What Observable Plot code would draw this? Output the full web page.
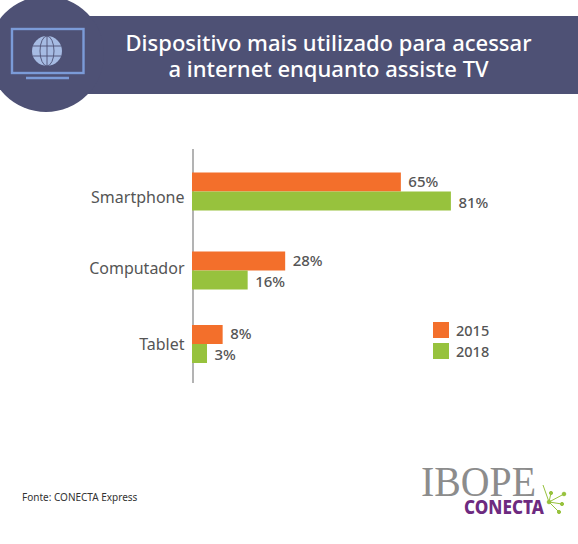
<!DOCTYPE html>
<html lang="pt">
<head>
<meta charset="utf-8">
<script src="https://cdn.jsdelivr.net/npm/d3@7"></script>
<script src="https://cdn.jsdelivr.net/npm/@observablehq/plot@0.6"></script>
<style>
  html, body { margin: 0; padding: 0; background: #fff; }
  #page { position: relative; width: 578px; height: 544px; overflow: hidden; font-family: "Noto Sans", sans-serif; }
  #deco { position: absolute; left: 0; top: 0; }
  #title { position: absolute; left: 79px; width: 499px; top: 29px; margin: 0; text-align: center; color: #fff;
           font-size: 22px; font-weight: 500; line-height: 26px; white-space: nowrap; }
  #chart { position: absolute; left: 0; top: 120px; }
  .leg { position: absolute; left: 433px; display: flex; align-items: center; font-size: 14.5px; font-weight: 500; color: #555; }
  .leg i { display: block; width: 16px; height: 16px; margin-right: 7px; }
  #source { position: absolute; left: 22px; top: 490px; font-size: 10px; color: #333; }
</style>
</head>
<body>
<div id="page">
  <svg id="deco" width="578" height="544" viewBox="0 0 578 544">
    <rect x="60" y="16" width="518" height="78" fill="#4e5175"/>
    <circle cx="46" cy="54" r="58" fill="#4e5175"/>
    <rect x="12" y="29" width="71.5" height="44" fill="none" stroke="#7b9bd8" stroke-width="2.4"/>
    <line x1="26" x2="69" y1="78" y2="78" stroke="#7b9bd8" stroke-width="2.6"/>
    <circle cx="47" cy="51" r="15" fill="#a6bbe3"/>
    <g fill="none" stroke="#4e5175" stroke-width="0.9">
      <ellipse cx="47" cy="51" rx="7" ry="15"/>
      <line x1="47" x2="47" y1="36" y2="66"/>
      <line x1="33" x2="61" y1="46" y2="46"/>
      <line x1="33" x2="61" y1="56" y2="56"/>
    </g>
    <text x="421" y="496" font-family="'Liberation Serif', serif" font-size="43" fill="#8c8c8c" textLength="115" lengthAdjust="spacingAndGlyphs">IBOPE</text>
    <text x="464" y="514" font-family="'Noto Sans', sans-serif" font-weight="800" font-size="19" fill="#6d2a80" textLength="80" lengthAdjust="spacingAndGlyphs">CONECTA</text>
    <g stroke="#97c23d" stroke-width="1" fill="#97c23d">
      <line x1="549" y1="502" x2="543" y2="485"/>
      <line x1="549" y1="502" x2="551" y2="493"/>
      <line x1="549" y1="502" x2="564" y2="494"/>
      <line x1="549" y1="502" x2="562" y2="504"/>
      <line x1="549" y1="502" x2="559" y2="512"/>
      <circle cx="551" cy="493" r="1.6"/><circle cx="564" cy="494" r="1.8"/>
      <circle cx="562" cy="504" r="1.6"/><circle cx="559" cy="512" r="1.6"/>
      <circle cx="549" cy="502" r="1.8"/>
    </g>
  </svg>
  <h1 id="title">Dispositivo mais utilizado para acessar<br>a internet enquanto assiste TV</h1>
  <div id="chart"></div>
  <div class="leg" style="top:320px"><i style="background:#f36f2b"></i><span>2015</span></div>
  <div class="leg" style="top:341px"><i style="background:#97c23d"></i><span>2018</span></div>
  <div id="source">Fonte: CONECTA Express</div>
</div>
<script>
const categories = ["Smartphone", "Computador", "Tablet"];
const years = ["2015", "2018"];
const values2015 = [65, 28, 8];
const values2018 = [81, 16, 3];
const seriesColors = ["#f36f2b", "#97c23d"];

const rows = categories.flatMap((category, i) => [
  {category, year: years[0], value: values2015[i], key: category + "|" + years[0]},
  {category, year: years[1], value: values2018[i], key: category + "|" + years[1]}
]);

// Band rows: two bars per group, then two empty rows between groups.
const yDomain = categories.flatMap((c, i) => {
  const bars = years.map(y => c + "|" + y);
  return i < categories.length - 1 ? [...bars, "gap-a" + i, "gap-b" + i] : bars;
});

const base = -1.8;              // the value axis starts slightly left of zero in the reference
const groupNudge = [-0.5, 2.5, 0];
const labelNudge = [-4.5, -9.5, -9.5];
const sans = "'Noto Sans', sans-serif";

const plot = Plot.plot({
  width: 578,
  height: 424,
  marginTop: 29,
  marginBottom: 161,
  marginLeft: 192,
  marginRight: 68,
  style: {background: "transparent", fontFamily: sans},
  x: {type: "linear", domain: [base, 100], range: [192, 510.3], axis: null},
  y: {type: "band", domain: yDomain, range: [52.5, 244], padding: 0, axis: null},
  color: {domain: years, range: seriesColors},
  marks: [
    Plot.ruleX([base], {stroke: "#b3b3b3", strokeWidth: 2, dx: 0.5}),
    ...categories.flatMap((c, i) => {
      const group = rows.filter(d => d.category === c);
      const labels = (year, dy) => Plot.text(group.filter(d => d.year === year), {
        x: "value", y: "key", text: d => d.value + "%",
        textAnchor: "start", dx: 7, dy: groupNudge[i] + dy,
        fontSize: 15, fontWeight: 500, fill: "#555"
      });
      return [
        Plot.barX(group, {x1: () => base, x2: "value", y: "key", fill: "year", inset: 0, dy: groupNudge[i]}),
        labels(years[0], -0.5),
        labels(years[1], 1.5),
        Plot.text([c], {
          x: () => base, y: () => c + "|" + years[1],
          text: d => d, textAnchor: "end", dx: -8, dy: labelNudge[i],
          fontSize: 16, fill: "#555"
        })
      ];
    })
  ]
});
document.getElementById("chart").appendChild(plot);
</script>
</body>
</html>
